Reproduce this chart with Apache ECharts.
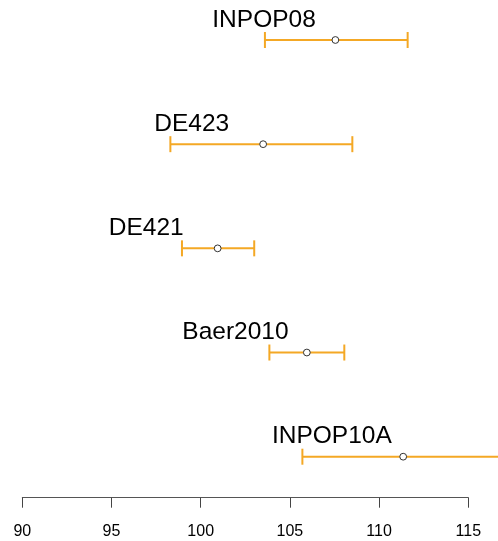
<!DOCTYPE html>
<html>
<head>
<meta charset="utf-8">
<style>
  html, body { margin: 0; padding: 0; background: #fff; }
  #chart { width: 498px; height: 541px; }
</style>
<script src="https://cdn.jsdelivr.net/npm/echarts@6/dist/echarts.min.js"></script>
</head>
<body>
<div id="chart"></div>
<script>
// Data
const models = ['INPOP08', 'DE423', 'DE421', 'Baer2010', 'INPOP10A'];
const means  = [107.55, 103.5, 100.95, 105.95, 111.35];
const lower  = [103.6, 98.3, 98.95, 103.85, 105.7];
const upper  = [111.6, 108.5, 103.0, 108.05, 117.0];
const xTicks = [90, 95, 100, 105, 110, 115];

const LABEL_SHIFT = 4; // label centred 4 units left of the mean
const BAR_COLOR = '#F4A825';
const FONT = 'Liberation Sans, Arial, Helvetica, sans-serif';

const chart = echarts.init(document.getElementById('chart'), null, { renderer: 'canvas' });

const data = models.map((m, i) => [i, means[i], lower[i], upper[i]]);

chart.setOption({
  animation: false,
  backgroundColor: '#ffffff',
  grid: { left: 22.3, right: 29.7, top: 40, bottom: 84.3, containLabel: false },
  xAxis: {
    type: 'value',
    min: xTicks[0],
    max: xTicks[xTicks.length - 1],
    interval: 5,
    offset: 41,
    axisLine: { show: true, lineStyle: { color: '#555', width: 1 } },
    axisTick: { show: true, length: 10, inside: false, lineStyle: { color: '#444', width: 1 } },
    axisLabel: { color: '#000', fontSize: 16, fontFamily: FONT, margin: 26 },
    splitLine: { show: false }
  },
  yAxis: {
    type: 'category',
    data: models,
    inverse: true,
    boundaryGap: false,
    show: false
  },
  series: [{
    type: 'custom',
    clip: false,
    data: data,
    encode: { x: [1, 2, 3], y: 0 },
    renderItem: function (params, api) {
      const row = api.value(0);
      const m = api.value(1);
      const lo = api.value(2);
      const hi = api.value(3);
      const pLo = api.coord([lo, row]);
      const pHi = api.coord([hi, row]);
      const pM = api.coord([m, row]);
      const pL = api.coord([m - LABEL_SHIFT, row]);
      const capH = 8;
      const lineStyle = { stroke: BAR_COLOR, lineWidth: 2 };
      return {
        type: 'group',
        children: [
          { type: 'line', shape: { x1: pLo[0], y1: pLo[1], x2: pHi[0], y2: pHi[1] }, style: lineStyle },
          { type: 'line', shape: { x1: pLo[0], y1: pLo[1] - capH, x2: pLo[0], y2: pLo[1] + capH }, style: lineStyle },
          { type: 'line', shape: { x1: pHi[0], y1: pHi[1] - capH, x2: pHi[0], y2: pHi[1] + capH }, style: lineStyle },
          { type: 'circle', shape: { cx: pM[0], cy: pM[1], r: 3.4 }, style: { fill: '#ffffff', stroke: '#333', lineWidth: 1 } },
          { type: 'text', style: {
              text: models[params.dataIndex], x: pL[0], y: pL[1] - 20,
              align: 'center', verticalAlign: 'middle',
              fontSize: 24.5, fontFamily: FONT, fill: '#000'
          } }
        ]
      };
    }
  }]
});
</script>
</body>
</html>
